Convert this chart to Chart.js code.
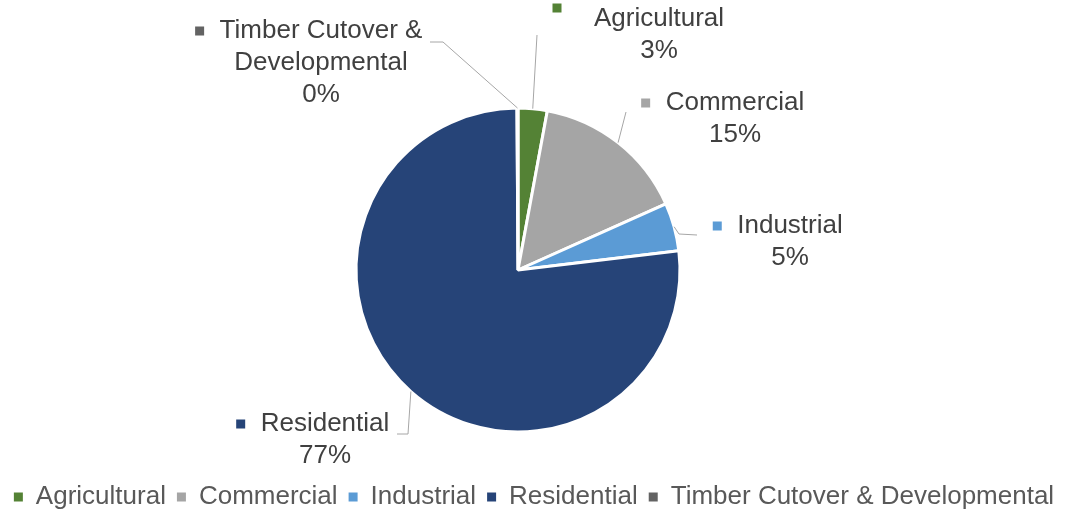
<!DOCTYPE html>
<html>
<head>
<meta charset="utf-8">
<script src="https://cdn.jsdelivr.net/npm/chart.js@4/dist/chart.umd.min.js"></script>
<style>
  html, body { margin: 0; padding: 0; background: #fff; }
  #wrap { width: 1068px; height: 510px; position: relative; }
</style>
</head>
<body>
<div id="wrap"><canvas id="chartPie"></canvas></div>
<script>
// Podíl typů pozemků: koláč s popisky a vodicími čarami, legenda dole.
const CATEGORIES = ['Agricultural', 'Commercial', 'Industrial', 'Residential', 'Timber Cutover & Developmental'];
const SHARES = [2.9, 15.4, 4.8, 76.8, 0.1];
const COLORS = ['#548235', '#a5a5a5', '#5b9bd5', '#264478', '#636363'];

// Rozložení popisků vůči středu koláče (px): text = střed prvního řádku,
// lead = body vodicí čáry od okraje výseče k popisku, mark = vlastní pozice čtverečku.
const LABEL_LAYOUT = [
    { lines: ['Agricultural'], text: [141, -251], mark: [39, -262], lead: [[19, -235]] },
    { lines: ['Commercial'], text: [217, -167], lead: [[108, -158]] },
    { lines: ['Industrial'], text: [272, -44], lead: [[161, -36], [179, -35]] },
    { lines: ['Residential'], text: [-193, 154], lead: [[-110, 164], [-121, 164]] },
    { lines: ['Timber Cutover &', 'Developmental'], text: [-197, -239], lead: [[-75, -228], [-88, -228]] },
];

const FONT = '"Liberation Sans", Arial, sans-serif';
const PIE_SHIFT_X = -16;

// Posun koláče doleva (legenda zůstává vystředěná na celé šířce).
const shiftPie = {
    id: 'shiftPie',
    afterUpdate(chart) {
        chart.getDatasetMeta(0).data.forEach((el) => { el.x += PIE_SHIFT_X; });
    },
};

const pieLabels = {
    id: 'pieLabels',
    afterDatasetsDraw(chart) {
        const { ctx } = chart;
        const arcs = chart.getDatasetMeta(0).data;
        const total = SHARES.reduce((s, v) => s + v, 0);
        ctx.save();
        ctx.font = `26px ${FONT}`;
        ctx.textBaseline = 'middle';
        arcs.forEach((arc, i) => {
            const lay = LABEL_LAYOUT[i];
            const cx = arc.x, cy = arc.y;
            const mid = (arc.startAngle + arc.endAngle) / 2;
            const ax = cx + Math.cos(mid) * arc.outerRadius;
            const ay = cy + Math.sin(mid) * arc.outerRadius;

            ctx.strokeStyle = '#a6a6a6';
            ctx.lineWidth = 1;
            ctx.beginPath();
            ctx.moveTo(ax, ay);
            lay.lead.forEach(([dx, dy]) => ctx.lineTo(cx + dx, cy + dy));
            ctx.stroke();

            const lines = lay.lines.concat([`${Math.round((100 * SHARES[i]) / total)}%`]);
            const tx = cx + lay.text[0];
            const ty = cy + lay.text[1];
            ctx.fillStyle = '#404040';
            ctx.textAlign = 'center';
            lines.forEach((ln, k) => ctx.fillText(ln, tx, ty + k * 32));

            const w0 = ctx.measureText(lines[0]).width;
            const mx = lay.mark ? cx + lay.mark[0] : tx - w0 / 2 - 20;
            const my = lay.mark ? cy + lay.mark[1] : ty;
            ctx.fillStyle = COLORS[i];
            ctx.fillRect(mx - 4.5, my - 4.5, 9, 9);
        });
        ctx.restore();
    },
};

new Chart(document.getElementById('chartPie'), {
    type: 'pie',
    data: {
        labels: CATEGORIES,
        datasets: [{
            data: SHARES,
            backgroundColor: COLORS,
            borderColor: '#ffffff',
            borderWidth: 3,
            radius: 162,
        }],
    },
    options: {
        responsive: true,
        maintainAspectRatio: false,
        animation: false,
        layout: { padding: { top: 67, bottom: -10, left: 0, right: 0 } },
        plugins: {
            tooltip: { enabled: false },
            legend: {
                position: 'bottom',
                labels: {
                    boxWidth: 9,
                    boxHeight: 9,
                    padding: 11,
                    color: '#595959',
                    font: { family: FONT, size: 26 },
                    generateLabels: () => CATEGORIES.map((c, i) => ({
                        text: c, fillStyle: COLORS[i], strokeStyle: COLORS[i], fontColor: '#595959',
                        lineWidth: 0, hidden: false, index: i,
                    })),
                },
            },
        },
    },
    plugins: [shiftPie, pieLabels],
});
</script>
</body>
</html>
